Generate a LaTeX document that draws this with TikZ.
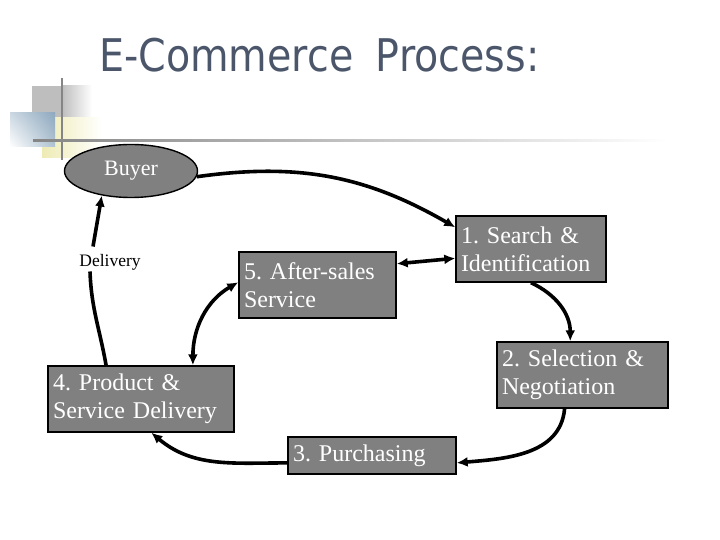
\documentclass[tikz,border=0pt]{standalone}
\usepackage{fontspec}
\setmainfont{Liberation Serif}
\newfontfamily\titlefont[FakeStretch=0.88]{DejaVu Sans}
\usepackage{tikz}
\usetikzlibrary{arrows.meta,positioning,shapes.geometric,shadings}
\definecolor{boxgray}{HTML}{808080}
\definecolor{titleblue}{HTML}{4B566B}
\definecolor{decogray}{HTML}{BEBEBE}
\definecolor{decoblue}{HTML}{8EA9BF}
\definecolor{decoyellow}{HTML}{EEEBB4}
\definecolor{rulegray}{HTML}{858585}
\frenchspacing

\begin{document}
\begin{tikzpicture}[
x=1pt,y=1pt,
box/.style={rectangle,draw=black,line width=1.4pt,fill=boxgray,text=white,align=left,inner xsep=5pt,inner ysep=2pt,font=\fontsize{24}{28}\selectfont},
arr/.style={-{Latex[length=11pt,width=10pt]},line width=3.6pt,color=black},
darr/.style={{Latex[length=11pt,width=10pt]}-{Latex[length=11pt,width=10pt]},line width=3.6pt,color=black}
]
\useasboundingbox (0,0) rectangle (720,540);
% slide decoration
\fill[decogray] (32,422) rectangle (62,454);
\shade[left color=decogray,right color=white] (62,422) rectangle (92,454);
\shade[left color=decoyellow,right color=white] (42,382) rectangle (102,422);
\shade[upper right=decoblue,upper left=decoblue!45,lower right=decoblue!70,lower left=white] (10,393) rectangle (55,427);
\draw[rulegray,line width=2.4pt] (62,380) -- (62,462);
\shade[left color=rulegray,right color=white] (33,398) rectangle (667,400.5);
% title
\node[anchor=base west,text=titleblue,inner sep=0,font=\titlefont\fontsize{45}{50}\selectfont] (title) at (99,468) {E-Commerce\hspace{0.5em}Process:};
% nodes
\node[ellipse,draw=black,line width=1.4pt,fill=boxgray,text=white,minimum width=133pt,minimum height=53pt,font=\fontsize{22}{26}\selectfont] (buyer) at (131,369) {Buyer};
\node[font=\fontsize{17.5}{20}\selectfont] (dlv) at (110,278) {Delivery};
\node[box,text width=147pt,minimum height=66pt] (s5) at (317.5,255) {5. After-sales\\Service};
\node[box,text width=140pt,minimum height=66pt] (s1) at (531,291) {1. Search \&\\Identification};
\node[box,text width=161pt,minimum height=66pt] (s2) at (582.5,165) {2. Selection \&\\Negotiation};
\node[box,text width=176pt,minimum height=66pt] (s4) at (141,141) {4. Product \&\\Service Delivery};
\node[box,text width=158pt,minimum height=37pt] (s3) at (372,84.5) {3. Purchasing};
% connectors
\draw[arr] (buyer.-5) to[out=8,in=150] (s1.164);
\draw[arr] (s1.south) to[out=-25,in=90] (s2.110);
\draw[arr] (s2.-118) to[out=-95,in=5] (s3.-5);
\draw[arr] (s3.185) to[out=180,in=-40] (s4.-73);
\draw[line width=3.6pt] (s4.136) to[out=100,in=-88] ([xshift=-20pt,yshift=2pt]dlv.south);
\draw[arr] ([xshift=-17pt,yshift=4pt]dlv.north) -- (buyer.-140);
\draw[darr] (s5.15) -- (s1.187);
\draw[darr] (s5.178) to[out=-150,in=90] (s4.33);
\end{tikzpicture}
\end{document}
